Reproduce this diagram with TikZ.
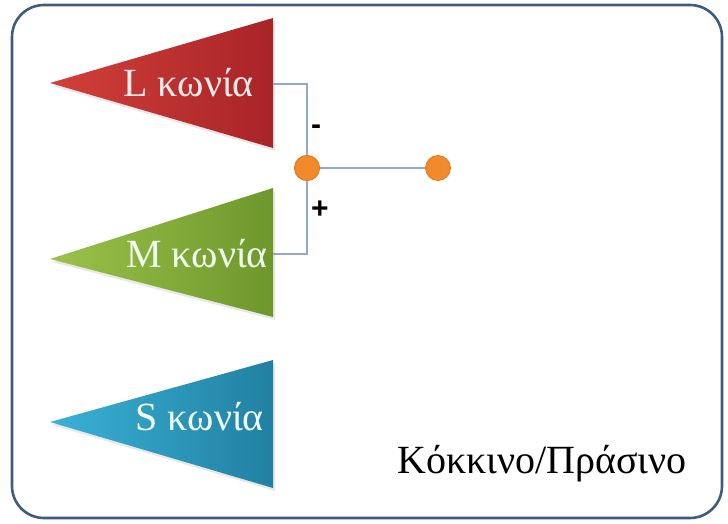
\documentclass[tikz,border=0pt]{standalone}
\usepackage{fontspec}
\setmainfont{Liberation Serif}
\newfontfamily\signfont{Liberation Sans}
\usetikzlibrary{shadows}

\definecolor{framecol}{HTML}{3E5C80}
\definecolor{wirecol}{HTML}{8FA9CF}
\definecolor{dotcol}{HTML}{F08A2A}
\definecolor{dotedge}{HTML}{E07A20}
\definecolor{redA}{HTML}{D2403A}
\definecolor{redB}{HTML}{A82428}
\definecolor{greenA}{HTML}{9BC24A}
\definecolor{greenB}{HTML}{6E972C}
\definecolor{tealA}{HTML}{3AB2D6}
\definecolor{tealB}{HTML}{2180A2}

\tikzset{
  frame/.style={draw=framecol, line width=2.6pt, rounded corners=32pt},
  cone/.style={draw=none, drop shadow={opacity=0.18, shadow xshift=2pt, shadow yshift=-3pt}},
  conetext/.style={font=\fontsize{40}{42}\selectfont, anchor=base east, inner sep=0pt},
  wire/.style={draw=wirecol, line width=1.1pt},
  dot/.style={circle, minimum size=25pt, inner sep=0pt, fill=dotcol, draw=dotedge, line width=0.8pt},
  sign/.style={font=\signfont\bfseries\fontsize{30}{30}\selectfont, inner sep=0pt},
  caption/.style={font=\fontsize{40}{42}\selectfont, anchor=base west, inner sep=0pt}
}

\begin{document}
\begin{tikzpicture}[x=1pt, y=1pt]
  \useasboundingbox (0,0) rectangle (728,523);

  % outer frame
  \draw[frame] (12,5) rectangle (722,518);

  % the three cones
  \path[cone, left color=redA, right color=redB]
    (50,440) -- (273,505) -- (273,375) -- cycle;
  \path[cone, left color=greenA, right color=greenB]
    (50,264) -- (273,335) -- (273,206) -- cycle;
  \path[cone, left color=tealA, right color=tealB]
    (50,101) -- (273,163) -- (273,35) -- cycle;

  \node[conetext, text=red!8!white] (L) at (254,426) {L κωνία};
  \node[conetext, text=green!6!white] (M) at (268,256) {M κωνία};
  \node[conetext, text=cyan!6!white] (S) at (264,93) {S κωνία};

  % outputs of the L and M cones
  \coordinate (Lout) at (273,439);
  \coordinate (Mout) at (273,269);

  % opponent junction and its output
  \node[dot] (J) at (307,355) {};
  \node[dot] (K) at (438,355) {};

  \draw[wire] (Lout) -| (J);
  \draw[wire] (Mout) -| (J);
  \draw[wire] (J) -- (K);
  \node[dot] at (J) {};

  \node[sign] (minus) at (316,393) {-};
  \node[sign] (plus) at (320,313) {+};

  \node[caption] (cap) at (397,50) {Κόκκινο/Πράσινο};
\end{tikzpicture}
\end{document}
